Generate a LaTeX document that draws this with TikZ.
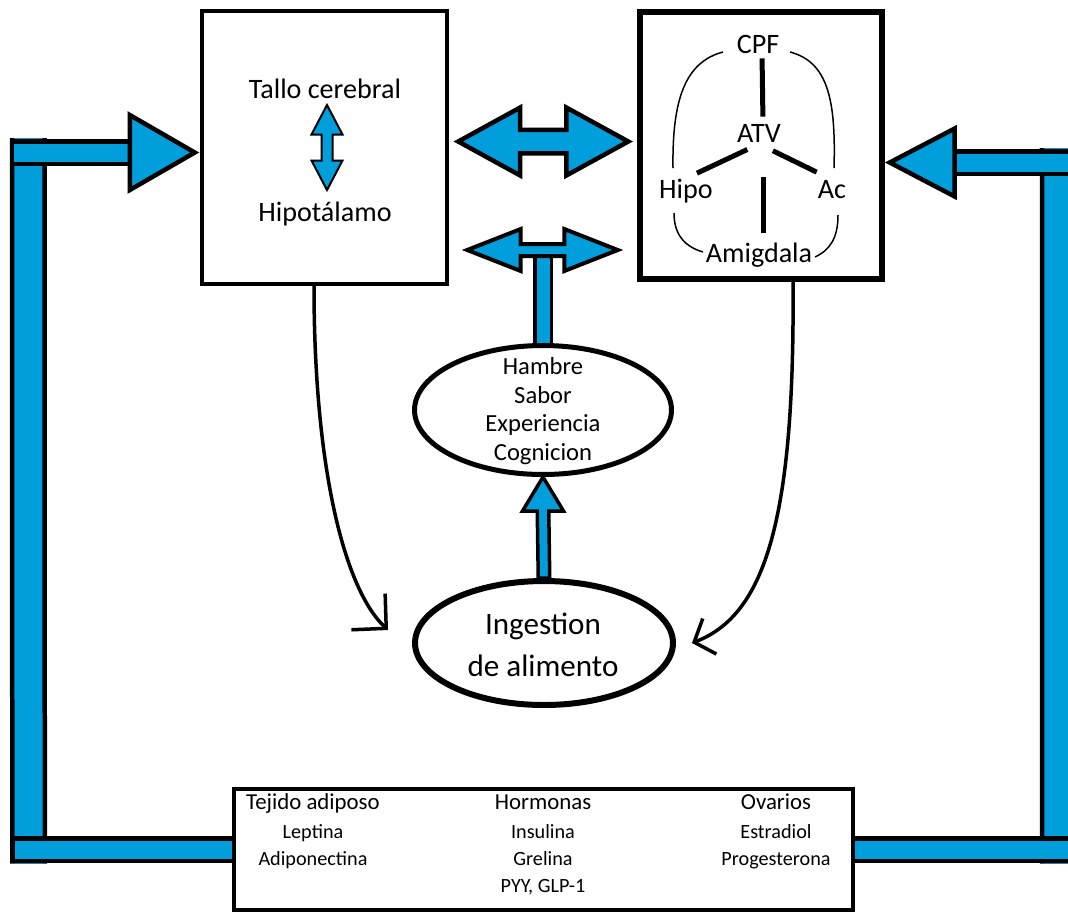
\documentclass[tikz,border=0pt]{standalone}
\usepackage{fontspec}
\setmainfont{Carlito}
\usetikzlibrary{calc,shapes.geometric,arrows.meta}
\definecolor{azul}{RGB}{0,158,219}
\pgfdeclarelayer{fondo}
\pgfsetlayers{fondo,main}

\newcommand{\dobleh}[6][]{%
  \filldraw[cabeza,#1] (#2) -- ++(#4,-#5) -- ++(0,#5-#6) -- ($(#3)+(-#4,-#6)$) -- ++(0,#6-#5) -- (#3)
    -- ++(-#4,#5) -- ++(0,#6-#5) -- ($(#2)+(#4,#6)$) -- ++(0,#5-#6) -- cycle;}
\newcommand{\doblev}[6][]{%
  \filldraw[cabeza,#1] (#2) -- ++(-#5,#4) -- ++(#5-#6,0) -- ($(#3)+(-#6,-#4)$) -- ++(#6-#5,0) -- (#3)
    -- ++(#5,-#4) -- ++(#6-#5,0) -- ($(#2)+(#6,#4)$) -- ++(#5-#6,0) -- cycle;}
\newcommand{\flechav}[6][]{%
  \filldraw[cabeza,#1] (#2) -- ++(#5,#4) -- ++(#6-#5,0) -- ($(#3)+(#6,0)$) -- ($(#3)+(-#6,0)$)
    -- ($(#2)+(-#6,#4)$) -- ++(#6-#5,0) -- cycle;}

\begin{document}
\begin{tikzpicture}[x=0.02cm,y=-0.02cm]
\tikzstyle{caja}=[draw, fill=white, line width=0.09cm, inner sep=0];
\tikzstyle{ovalo}=[draw, fill=white, ellipse, line width=0.1cm, inner sep=0];
\tikzstyle{texto}=[inner sep=0, anchor=base, font=\fontsize{16}{19}\selectfont];
\tikzstyle{lista}=[inner sep=0, anchor=base, font=\fontsize{11.5}{14}\selectfont];
\tikzstyle{titulo}=[lista, font=\fontsize{13}{16}\selectfont];
\tikzstyle{tubo}=[draw=black, line width=0.09cm, double=azul, double distance=0.36cm];
\tikzstyle{cabeza}=[draw=black, fill=azul, line width=0.09cm, line join=miter];
\tikzstyle{curva}=[line width=0.07cm];
\tikzstyle{raya}=[line width=0.1cm];
\tikzstyle{arco}=[line width=0.03cm];
\useasboundingbox (0,0) rectangle (1068,914);
\clip (0,0) rectangle (1068,914);

\node[caja, minimum width=4.9cm, minimum height=5.46cm] (tronco) at (324.5,147.5) {};
\node[caja, line width=0.11cm, minimum width=4.84cm, minimum height=5.34cm] (meso) at (761,145.5) {};
\node[caja, line width=0.08cm, minimum width=12.38cm, minimum height=2.42cm] (abajo) at (543.5,849.5) {};
\node[ovalo, minimum width=5.14cm, minimum height=2.58cm] (factores) at (543,410) {};
\node[ovalo, line width=0.12cm, minimum width=5.16cm, minimum height=2.48cm] (ingesta) at (544,643) {};

\node[texto] (tallo) at (325,98) {Tallo cerebral};
\node[texto] (hipot) at (325,221) {Hipotálamo};
\node[texto] (cpf) at (758,53) {CPF};
\node[texto] (atv) at (759,142) {ATV};
\node[texto] (hipo) at (686,198) {Hipo};
\node[texto] (ac) at (832,198) {Ac};
\node[texto] (amig) at (759,262) {Amigdala};
\node[align=center, inner sep=0, font=\fontsize{14}{16.4}\selectfont] (factorestxt) at (543,411) {Hambre\\Sabor\\Experiencia\\Cognicion};
\node[align=center, inner sep=0, font=\fontsize{17.7}{23.8}\selectfont] (ingestatxt) at (543,645) {Ingestion\\de alimento};

\node[titulo] (adiposo) at (313,809) {Tejido adiposo};
\node[lista] (leptina) at (313,838) {Leptina};
\node[lista] (adipon) at (313,865) {Adiponectina};
\node[titulo] (hormonas) at (543,809) {Hormonas};
\node[lista] (insulina) at (543,838) {Insulina};
\node[lista] (grelina) at (543,865) {Grelina};
\node[lista] (pyy) at (543,892) {PYY, GLP-1};
\node[titulo] (ovarios) at (776,809) {Ovarios};
\node[lista] (estradiol) at (776,838) {Estradiol};
\node[lista] (progest) at (776,865) {Progesterona};

\coordinate (pi) at ($(tronco.west)+(-5,5)$);
\coordinate (pd) at ($(meso.east)+(5,17)$);
\coordinate (so) at ($(pi)+(-166.5,0)$);
\coordinate (io) at ($(abajo.west)+(-203.5,0)$);
\coordinate (sd) at ($(pd)+(168.5,0)$);
\coordinate (id) at ($(abajo.east)+(203.5,0)$);
\coordinate (hA) at ($(tronco.east)+(9,-6)$);
\coordinate (hB) at ($(meso.west)+(-9,-4)$);
\coordinate (hC) at ($(tronco.east)+(18,102.5)$);
\coordinate (hD) at ($(meso.west)+(-19.5,104.5)$);
\coordinate (vA) at ($(tallo.base)+(2,7)$);
\coordinate (vB) at ($(hipot.base)+(2,-31)$);
\coordinate (nucleo) at ($(atv.base)+(0,2)$);

\begin{pgfonlayer}{fondo}
\fill[white] (0,0) rectangle (1068,914);
\draw[tubo, double distance=0.56cm] ($(so)+(0,-14.5)$) -- ($(io)+(0,14)$);
\draw[tubo, double distance=0.56cm] ($(sd)+(0,-14.5)$) -- ($(id)+(0,14)$);
\draw[tubo, line cap=rect] ($(so)+(-5,0)$) -- ($(pi)+(-65,0)$);
\draw[tubo, line cap=rect] ($(io)+(-5,0)$) -- (abajo.west);
\draw[tubo, line cap=rect] ($(sd)+(5,0)$) -- ($(pd)+(65,0)$);
\draw[tubo, line cap=rect] ($(id)+(5,0)$) -- (abajo.east);
\draw[tubo, line width=0.07cm, double distance=0.26cm] (factores.north) -- (factores.north |- hC);
\end{pgfonlayer}

\filldraw[cabeza] (pi) -- ++(-65,-37.5) -- ++(0,75) -- cycle;
\filldraw[cabeza] (pd) -- ++(65,-34) -- ++(0,68) -- cycle;
\dobleh{hA}{hB}{62}{34}{11.75}
\dobleh[line width=0.08cm]{hC}{hD}{53.5}{21}{6}
\doblev[line width=0.04cm]{vA}{vB}{29.5}{15.5}{5.5}
\flechav[line width=0.07cm]{factores.south}{ingesta.north}{34}{20.5}{5.75}

\draw[raya] ($(cpf.south)!0.07!(atv.north)+(4,0)$) -- ($(cpf.south)!0.9!(atv.north)+(4,0)$);
\draw[raya] ($(nucleo)!0.16!(hipo.north)$) -- ($(nucleo)!0.85!(hipo.north)$);
\draw[raya] ($(nucleo)!0.19!(ac.north)$) -- ($(nucleo)!0.79!(ac.north)$);
\draw[raya] ($(atv.south)!0.35!(amig.north)+(4,0)$) -- ($(atv.south)!0.91!(amig.north)+(4,0)$);
\draw[arco] (723,52) .. controls (685,62) and (672,100) .. (673,168);
\draw[arco] (674,213) .. controls (674,236) and (686,247) .. (703,252);
\draw[arco] (790,52) .. controls (828,62) and (836,100) .. (834,168);
\draw[arco] (838,215) .. controls (838,238) and (830,250) .. (815,257);

\draw[curva, -{Straight Barb[length=0.49cm, width=0.99cm]}] ($(tronco.south)+(-10.5,0)$) .. controls (314,470) and (345,590) .. ($(ingesta.west)+(-24,-13)$);
\draw[curva, -{Straight Barb[length=0.33cm, width=0.76cm]}] ($(meso.south)+(32,0)$) .. controls (795,520) and (765,615) .. ($(ingesta.east)+(16,0)$);
\end{tikzpicture}
\end{document}
